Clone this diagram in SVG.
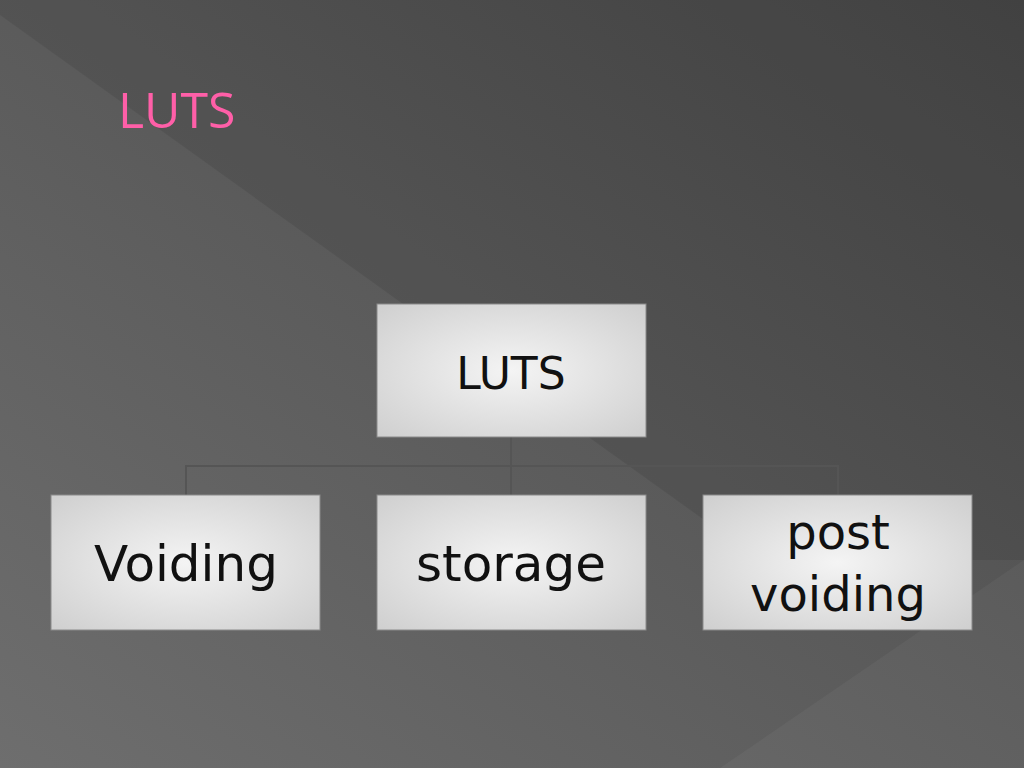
<svg xmlns="http://www.w3.org/2000/svg" width="1024" height="768" viewBox="0 0 1024 768">
<defs>
<linearGradient id="bg" x1="0" y1="1" x2="1" y2="0"><stop offset="0" stop-color="#6e6e6e"/><stop offset="1" stop-color="#474747"/></linearGradient>
<radialGradient id="box" cx="0.5" cy="0.5" r="0.7"><stop offset="0" stop-color="#f4f4f4"/><stop offset="1" stop-color="#cfcfcf"/></radialGradient>
<style>
.b{fill:url(#box);stroke:#8a8a8a;stroke-width:1}
.t{font-family:"DejaVu Sans",sans-serif;fill:#111;text-anchor:middle}
.c{stroke:#555;stroke-width:2;fill:none}
</style>
</defs>
<rect width="1024" height="768" fill="url(#bg)"/>
<polygon points="0,0 0,15 760,560 1024,560 1024,0" fill="#000" opacity="0.08"/>
<polygon points="1024,560 720,768 1024,768" fill="#fff" opacity="0.04"/>
<text x="118" y="128" font-family="Open Sans,sans-serif" font-size="50" fill="#ff5fa8">LUTS</text>
<g id="connectors">
<path class="c" d="M511,437 V466 M186,495 V466 H838 V495 M511,466 V495"/>
</g>
<g id="n0"><rect class="b" x="377" y="304" width="269" height="133"/><text class="t" x="511" y="389" font-size="44">LUTS</text></g>
<g id="n1"><rect class="b" x="51" y="495" width="269" height="135"/><text class="t" x="186" y="581" font-size="50">Voiding</text></g>
<g id="n2"><rect class="b" x="377" y="495" width="269" height="135"/><text class="t" x="511" y="581" font-size="50">storage</text></g>
<g id="n3"><rect class="b" x="703" y="495" width="269" height="135"/><text class="t" x="838" y="549" font-size="48">post</text><text class="t" x="838" y="611" font-size="48">voiding</text></g>
</svg>
